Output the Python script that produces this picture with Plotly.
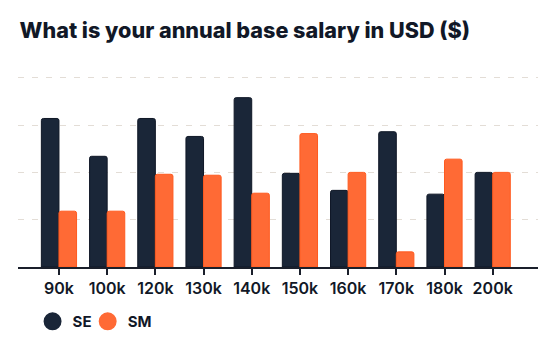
import plotly.graph_objects as go

categories = ["90k", "100k", "120k", "130k", "140k", "150k", "160k", "170k", "180k", "200k"]
se_values = [15.7, 11.7, 15.7, 13.8, 17.9, 9.9, 8.1, 14.3, 7.7, 10.0]
sm_values = [5.9, 5.9, 9.8, 9.7, 7.8, 14.1, 10.0, 1.6, 11.4, 10.0]

SE_COLOR = "#1a2638"
SM_COLOR = "#ff6a35"
TEXT = "#111827"

fig = go.Figure()
fig.add_trace(go.Bar(name="SE", x=categories, y=se_values,
                     marker=dict(color=SE_COLOR, line=dict(color="#0f1726", width=1), cornerradius=2),
                     showlegend=False))
fig.add_trace(go.Bar(name="SM", x=categories, y=sm_values,
                     marker=dict(color=SM_COLOR, line=dict(color="#ff5a1f", width=1), cornerradius=2),
                     showlegend=False))
# legend entries with circular symbols
fig.add_trace(go.Scatter(name="SE", x=[None], y=[None], mode="markers", legend="legend",
                         marker=dict(color=SE_COLOR, size=18, symbol="circle",
                                     line=dict(color=SE_COLOR, width=2))))
fig.add_trace(go.Scatter(name="SM", x=[None], y=[None], mode="markers", legend="legend2",
                         marker=dict(color=SM_COLOR, size=18, symbol="circle",
                                     line=dict(color=SM_COLOR, width=2))))

legend_font = dict(family="Inter", size=15, color=TEXT, weight=700)

fig.update_layout(
    width=542, height=342,
    margin=dict(l=10, r=12, t=66, b=83),
    paper_bgcolor="white", plot_bgcolor="white",
    barmode="group", bargap=0.27, bargroupgap=0,
    title=dict(text="What is your annual base salary in USD ($)",
               x=0.0214, xanchor="left", y=0.933, yanchor="middle",
               font=dict(family="Inter", size=21.6, color=TEXT, weight=800)),
    xaxis=dict(type="category", range=[-0.85, 9.94], showgrid=False,
               showline=True, linecolor="#1a1f2b", linewidth=2,
               ticks="outside", ticklen=6, tickwidth=2, tickcolor="#1a1f2b",
               tickfont=dict(family="Inter", size=16, color=TEXT, weight=600)),
    yaxis=dict(range=[0, 20.4], dtick=5, showticklabels=False, zeroline=False,
               showgrid=True, gridcolor="#e3ddd6", griddash="6px,8px", gridwidth=1),
    legend=dict(orientation="h", x=0.028, xanchor="left", y=-0.283, yanchor="middle",
                font=legend_font, itemclick=False, bgcolor="rgba(0,0,0,0)"),
    legend2=dict(orientation="h", x=0.134, xanchor="left", y=-0.283, yanchor="middle",
                 font=legend_font, itemclick=False, bgcolor="rgba(0,0,0,0)"),
    showlegend=True,
)

fig.write_html("out.html")
